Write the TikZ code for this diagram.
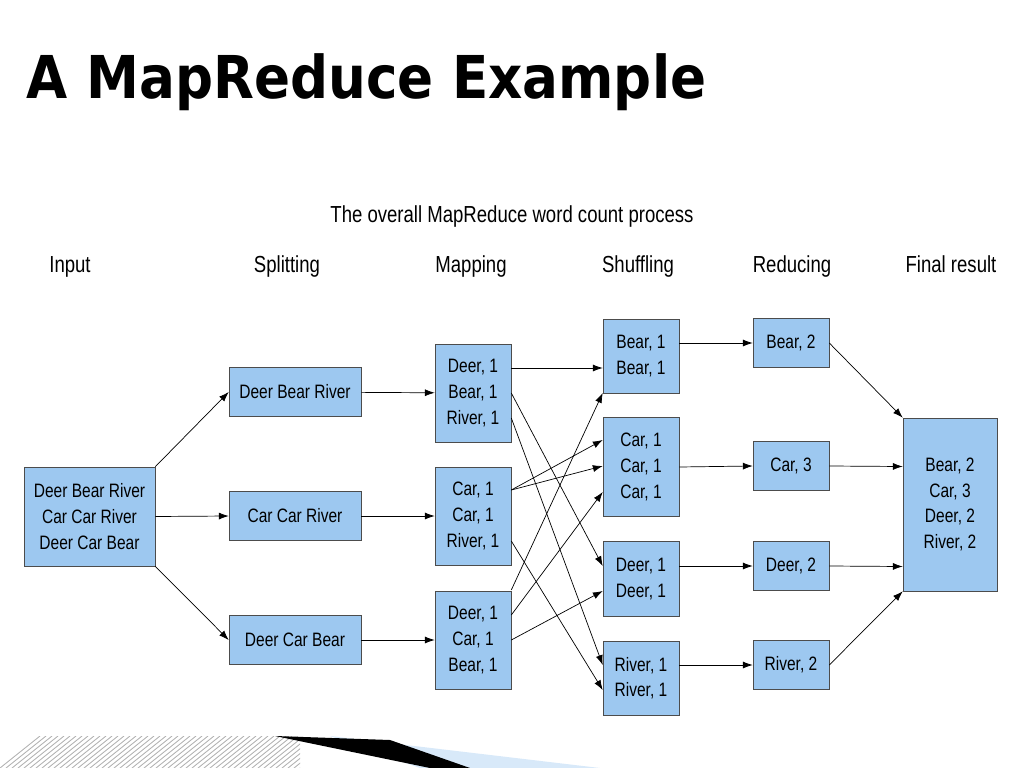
\documentclass[tikz,border=0pt]{standalone}
\usepackage{fontspec}
\setmainfont{Liberation Sans}[FakeStretch=0.8]
\newfontfamily\titlefont{DejaVu Sans Condensed}
\usetikzlibrary{arrows.meta,calc}
\definecolor{boxblue}{RGB}{157,200,240}
\begin{document}
\begin{tikzpicture}[%
        x = 0.025cm,
        y = -0.025cm,
        > = {Latex[length=7pt,width=5pt]},
        box/.style = {draw = black!70, fill = boxblue, inner sep = 0pt,
            align = center, font = \fontsize{13.8}{18.2}\selectfont},
        head/.style = {anchor = base, font = \fontsize{16.5}{18}\selectfont},
        link/.style = {->, line width = 0.5pt},
    ]

        % Frame of the slide.
        \useasboundingbox (0, 0) rectangle (1024, 768);

        % Title.
        \node (title) at (22, 82) [anchor = west]
            {\titlefont\bfseries\fontsize{42}{50}\selectfont A MapReduce Example};
        \node (sub) at (512, 222) [head] {The overall MapReduce word count process};

        % Column heads.
        \node (hin) at (70, 272) [head] {Input};
        \node (hsp) at (287, 272) [head] {Splitting};
        \node (hmap) at (471, 272) [head] {Mapping};
        \node (hsh) at (638, 272) [head] {Shuffling};
        \node (hred) at (792, 272) [head] {Reducing};
        \node (hfin) at (951, 272) [head] {Final result};

        % Input and splits.
        \node (in) at (89.5, 516.5) [box, minimum width = 131*0.025cm, minimum height = 99*0.025cm]
            {Deer Bear River\\Car Car River\\Deer Car Bear};
        \node (s1) at (295, 392) [box, minimum width = 3.3cm, minimum height = 1.225cm] {Deer Bear River};
        \node (s2) at (295, 516) [box, minimum width = 3.3cm, minimum height = 1.225cm] {Car Car River};
        \node (s3) at (295, 640) [box, minimum width = 3.3cm, minimum height = 1.225cm] {Deer Car Bear};

        % Mapping.
        \node (m1) at (473, 393) [box, minimum width = 1.9cm, minimum height = 2.45cm] {Deer, 1\\Bear, 1\\River, 1};
        \node (m2) at (473, 516) [box, minimum width = 1.9cm, minimum height = 2.45cm] {Car, 1\\Car, 1\\River, 1};
        \node (m3) at (473, 640) [box, minimum width = 1.9cm, minimum height = 2.45cm] {Deer, 1\\Car, 1\\Bear, 1};

        % Shuffling.
        \node (sh1) at (641, 356) [box, minimum width = 1.9cm, minimum height = 1.85cm] {Bear, 1\\Bear, 1};
        \node (sh2) at (641, 467) [box, minimum width = 1.9cm, minimum height = 2.475cm] {Car, 1\\Car, 1\\Car, 1};
        \node (sh3) at (641, 579) [box, minimum width = 1.9cm, minimum height = 1.875cm] {Deer, 1\\Deer, 1};
        \node (sh4) at (641, 678) [box, minimum width = 1.9cm, minimum height = 1.85cm] {River, 1\\River, 1};

        % Reducing.
        \node (r1) at (791, 343) [box, minimum width = 1.9cm, minimum height = 1.225cm] {Bear, 2};
        \node (r2) at (791, 466) [box, minimum width = 1.9cm, minimum height = 1.225cm] {Car, 3};
        \node (r3) at (791, 566) [box, minimum width = 1.9cm, minimum height = 1.225cm] {Deer, 2};
        \node (r4) at (791, 665) [box, minimum width = 1.9cm, minimum height = 1.225cm] {River, 2};

        % Final result.
        \node (fin) at (950, 504.5) [box, minimum width = 2.35cm, minimum height = 4.325cm]
            {Bear, 2\\Car, 3\\Deer, 2\\River, 2};

        % Input to splits.
        \draw[link] (in.north east) to (s1.west);
        \draw[link] (in.east) to (s2.west);
        \draw[link] (in.south east) to (s3.west);

        % Splits to mapping.
        \draw[link] (s1) to (m1);
        \draw[link] (s2) to (m2);
        \draw[link] (s3) to (m3);

        % Mapping to shuffling.
        \draw[link] ($(m1.east)+(0,-25)$) to ($(sh1.west)+(0,12)$);
        \draw[link] (m1.east) to ($(sh3.west)+(0,-13)$);
        \draw[link] ($(m1.east)+(0,25)$) to ($(sh4.west)+(0,-13)$);
        \draw[link] ($(m2.east)+(0,-26)$) to ($(sh2.west)+(0,-27)$);
        \draw[link] ($(m2.east)+(0,-26)$) to ($(sh2.west)+(0,-1)$);
        \draw[link] ($(m2.east)+(0,25)$) to ($(sh4.west)+(0,12)$);
        \draw[link] ($(m3.east)+(0,-50)$) to ($(sh1.west)+(0,37)$);
        \draw[link] ($(m3.east)+(0,-25)$) to ($(sh2.west)+(0,25)$);
        \draw[link] (m3.east) to ($(sh3.west)+(0,12)$);

        % Shuffling to reducing.
        \draw[link] ($(sh1.east)+(0,-13)$) to (r1.west);
        \draw[link] (sh2.east) to (r2.west);
        \draw[link] ($(sh3.east)+(0,-13)$) to (r3.west);
        \draw[link] ($(sh4.east)+(0,-13)$) to (r4.west);

        % Reducing to final result.
        \draw[link] (r1.east) to (fin.north west);
        \draw[link] (r2.east) to ($(fin.west)+(0,-38)$);
        \draw[link] (r3.east) to ($(fin.west)+(0,62)$);
        \draw[link] (r4.east) to (fin.south west);

        % Strip at the foot of the slide.
        \begin{scope}
            \clip (0, 736) rectangle (300, 768);
            \foreach \i in {0, 6, ..., 340}
                \draw[gray!60, line width = 0.6pt] (\i, 768) -- ++(40, -32);
        \end{scope}
        \fill[boxblue!40] (330, 736) -- (600, 768) -- (420, 768) -- cycle;
        \fill[black] (275, 736) -- (390, 740) -- (470, 768) -- (430, 768) -- cycle;
    \end{tikzpicture}
\end{document}
